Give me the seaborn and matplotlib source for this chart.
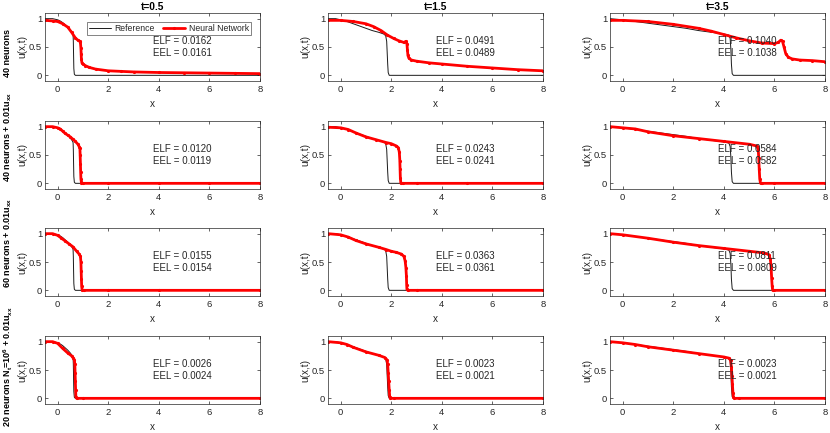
import matplotlib
matplotlib.use("Agg")
import matplotlib.pyplot as plt
import pandas as pd
import seaborn as sns

# ---------------- data ----------------
time_titles = ["t=0.5", "t=1.5", "t=3.5"]
row_labels = [
    "40 neurons",
    r"40 neurons + 0.01$\mathbf{u_{xx}}$",
    r"60 neurons + 0.01$\mathbf{u_{xx}}$",
    r"20 neurons $\mathbf{N_t}$=$\mathbf{10^6}$ + 0.01$\mathbf{u_{xx}}$",
]
x_ticks = [0, 2, 4, 6, 8]
y_ticks = [0, 0.5, 1]
y_tick_labels = ["0", "0.5", "1"]

# Reference solution (one per time)
ref_x_t05 = [-0.5, -0.2, 0.0, 0.1, 0.2, 0.3, 0.4, 0.5, 0.58, 0.61, 0.62, 0.63, 0.64, 0.66, 0.7, 8.0]
ref_u_t05 = [1.0, 1.0, 0.98, 0.96, 0.93, 0.89, 0.85, 0.8, 0.75, 0.72, 0.6, 0.35, 0.12, 0.02, 0.0, 0.0]
ref_x_t15 = [-0.5, -0.2, 0.0, 0.25, 0.5, 0.75, 1.0, 1.25, 1.5, 1.7, 1.78, 1.82, 1.84, 1.86, 1.88, 1.92, 2.0, 8.0]
ref_u_t15 = [1.0, 1.0, 0.98, 0.95, 0.91, 0.87, 0.83, 0.79, 0.76, 0.73, 0.7, 0.6, 0.4, 0.2, 0.05, 0.0, 0.0, 0.0]
ref_x_t35 = [-0.5, 0.0, 0.5, 1.0, 1.5, 2.0, 2.5, 3.0, 3.5, 4.0, 4.2, 4.25, 4.28, 4.3, 4.33, 4.38, 4.5, 8.0]
ref_u_t35 = [1.0, 0.98, 0.95, 0.92, 0.89, 0.86, 0.83, 0.79, 0.76, 0.73, 0.71, 0.65, 0.45, 0.2, 0.03, 0.0, 0.0, 0.0]

# Neural network, row 1 (40 neurons)
nn1_x_t05 = [-0.5, -0.2, 0.0, 0.2, 0.4, 0.55, 0.7, 0.8, 0.88, 0.9, 0.92, 0.93, 0.94, 0.96, 1.0, 1.1, 1.25, 1.5, 2.0, 2.5, 3.0, 4.0, 5.0, 6.0, 7.0, 8.0]
nn1_u_t05 = [0.97, 0.96, 0.95, 0.91, 0.85, 0.76, 0.66, 0.62, 0.6, 0.58, 0.48, 0.38, 0.28, 0.22, 0.2, 0.17, 0.14, 0.11, 0.08, 0.07, 0.06, 0.05, 0.045, 0.04, 0.035, 0.03]
nn1_x_t15 = [-0.5, 0.0, 0.5, 1.0, 1.3, 1.6, 1.85, 2.1, 2.3, 2.5, 2.58, 2.62, 2.64, 2.66, 2.7, 2.8, 3.0, 3.5, 4.0, 5.0, 6.0, 7.0, 8.0]
nn1_u_t15 = [0.97, 0.97, 0.95, 0.91, 0.86, 0.79, 0.71, 0.65, 0.61, 0.58, 0.6, 0.56, 0.45, 0.35, 0.3, 0.27, 0.25, 0.22, 0.2, 0.16, 0.13, 0.1, 0.08]
nn1_x_t35 = [-0.5, 0.0, 1.0, 2.0, 3.0, 3.5, 4.0, 4.5, 5.0, 5.5, 6.0, 6.15, 6.25, 6.32, 6.38, 6.45, 6.55, 6.7, 7.0, 7.5, 8.0]
nn1_u_t35 = [0.97, 0.97, 0.95, 0.9, 0.83, 0.78, 0.72, 0.66, 0.61, 0.57, 0.56, 0.58, 0.62, 0.6, 0.5, 0.38, 0.32, 0.29, 0.27, 0.26, 0.24]

# Row 2 (40 neurons + 0.01u_xx)
nn2_x_t05 = [-0.5, -0.2, 0.0, 0.1, 0.2, 0.3, 0.4, 0.5, 0.6, 0.7, 0.8, 0.85, 0.88, 0.89, 0.9, 0.91, 0.92, 0.94, 1.0, 2.0, 4.0, 6.0, 8.0]
nn2_u_t05 = [1.0, 1.0, 0.98, 0.96, 0.92, 0.88, 0.85, 0.82, 0.78, 0.74, 0.69, 0.65, 0.62, 0.5, 0.35, 0.2, 0.08, 0.01, 0.0, 0.0, 0.0, 0.0, 0.0]
nn2_x_t15 = [-0.5, 0.0, 0.3, 0.6, 1.0, 1.4, 1.8, 2.0, 2.2, 2.28, 2.32, 2.34, 2.35, 2.36, 2.38, 2.45, 3.0, 5.0, 8.0]
nn2_u_t15 = [0.99, 0.98, 0.95, 0.89, 0.82, 0.77, 0.72, 0.7, 0.66, 0.63, 0.55, 0.4, 0.25, 0.1, 0.0, 0.0, 0.0, 0.0, 0.0]
nn2_x_t35 = [-0.5, 0.0, 0.5, 1.0, 2.0, 3.0, 4.0, 5.0, 5.3, 5.36, 5.38, 5.4, 5.42, 5.45, 5.5, 6.0, 8.0]
nn2_u_t35 = [1.0, 0.98, 0.96, 0.91, 0.84, 0.79, 0.74, 0.69, 0.66, 0.6, 0.45, 0.25, 0.08, 0.0, 0.0, 0.0, 0.0]

# Row 3 (60 neurons + 0.01u_xx)
nn3_x_t05 = [-0.5, -0.2, 0.0, 0.15, 0.3, 0.45, 0.6, 0.75, 0.85, 0.9, 0.92, 0.93, 0.94, 0.95, 0.97, 1.05, 2.0, 4.0, 8.0]
nn3_u_t05 = [1.0, 1.0, 0.97, 0.92, 0.87, 0.82, 0.77, 0.69, 0.64, 0.6, 0.5, 0.35, 0.2, 0.07, 0.0, 0.0, 0.0, 0.0, 0.0]
nn3_x_t15 = [-0.5, 0.0, 0.3, 0.6, 1.0, 1.5, 1.8, 2.0, 2.2, 2.4, 2.5, 2.55, 2.58, 2.6, 2.61, 2.62, 2.65, 3.0, 8.0]
nn3_u_t15 = [1.0, 0.98, 0.94, 0.88, 0.82, 0.76, 0.72, 0.69, 0.67, 0.64, 0.6, 0.52, 0.4, 0.25, 0.1, 0.02, 0.0, 0.0, 0.0]
nn3_x_t35 = [-0.5, 0.0, 1.0, 2.0, 3.0, 4.0, 5.0, 5.6, 5.78, 5.84, 5.87, 5.89, 5.91, 5.93, 6.0, 8.0]
nn3_u_t35 = [1.0, 0.98, 0.92, 0.85, 0.79, 0.74, 0.69, 0.66, 0.63, 0.55, 0.4, 0.22, 0.08, 0.0, 0.0, 0.0]

# Row 4 (20 neurons, N_t = 10^6, + 0.01u_xx)
nn4_x_t05 = [-0.5, -0.2, 0.0, 0.2, 0.4, 0.55, 0.62, 0.66, 0.68, 0.69, 0.7, 0.71, 0.72, 0.75, 1.0, 8.0]
nn4_u_t05 = [1.0, 1.0, 0.97, 0.88, 0.8, 0.75, 0.71, 0.68, 0.6, 0.45, 0.3, 0.15, 0.03, 0.0, 0.0, 0.0]
nn4_x_t15 = [-0.5, 0.0, 0.25, 0.5, 1.0, 1.5, 1.75, 1.83, 1.86, 1.88, 1.9, 1.92, 1.94, 1.97, 2.1, 8.0]
nn4_u_t15 = [1.0, 0.98, 0.95, 0.9, 0.82, 0.76, 0.72, 0.68, 0.6, 0.45, 0.3, 0.15, 0.03, 0.0, 0.0, 0.0]
nn4_x_t35 = [-0.5, 0.0, 0.5, 1.0, 2.0, 3.0, 4.0, 4.2, 4.27, 4.3, 4.32, 4.34, 4.36, 4.38, 4.42, 4.6, 8.0]
nn4_u_t35 = [1.0, 0.98, 0.95, 0.91, 0.85, 0.79, 0.73, 0.71, 0.67, 0.55, 0.4, 0.25, 0.1, 0.02, 0.0, 0.0, 0.0]

elf_values = [["0.0162", "0.0491", "0.1040"],
              ["0.0120", "0.0243", "0.0584"],
              ["0.0155", "0.0363", "0.0811"],
              ["0.0026", "0.0023", "0.0023"]]
eel_values = [["0.0161", "0.0489", "0.1038"],
              ["0.0119", "0.0241", "0.0582"],
              ["0.0154", "0.0361", "0.0809"],
              ["0.0024", "0.0021", "0.0021"]]

# ---------------- styling ----------------
sns.set_theme(style="ticks")
plt.rcParams["font.family"] = ["Liberation Sans", "DejaVu Sans"]
plt.rcParams.update({
    "mathtext.fontset": "custom",
    "mathtext.rm": "Liberation Sans",
    "mathtext.it": "Liberation Sans:italic",
    "mathtext.bf": "Liberation Sans:bold",
    "axes.edgecolor": "#262626",
    "axes.linewidth": 0.5,
    "xtick.color": "#262626",
    "ytick.color": "#262626",
    "text.color": "#262626",
})

refs = [(ref_x_t05, ref_u_t05), (ref_x_t15, ref_u_t15), (ref_x_t35, ref_u_t35)]
nns = [
    [(nn1_x_t05, nn1_u_t05), (nn1_x_t15, nn1_u_t15), (nn1_x_t35, nn1_u_t35)],
    [(nn2_x_t05, nn2_u_t05), (nn2_x_t15, nn2_u_t15), (nn2_x_t35, nn2_u_t35)],
    [(nn3_x_t05, nn3_u_t05), (nn3_x_t15, nn3_u_t15), (nn3_x_t35, nn3_u_t35)],
    [(nn4_x_t05, nn4_u_t05), (nn4_x_t15, nn4_u_t15), (nn4_x_t35, nn4_u_t35)],
]

W, H = 830, 433
fig = plt.figure(figsize=(W / 100, H / 100), dpi=100)

col_left_px = [45, 328, 610]
row_top_px = [13, 121, 228, 336]
ax_w_px, ax_h_px = 215, 68
FS = 6.8

for r in range(4):
    for c in range(3):
        l = col_left_px[c] / W
        b = (H - row_top_px[r] - ax_h_px) / H
        ax = fig.add_axes([l, b, ax_w_px / W, ax_h_px / H])
        rx, ru = refs[c]
        nx, nu = nns[r][c]
        df_ref = pd.DataFrame({"x": rx, "u": ru})
        df_nn = pd.DataFrame({"x": nx, "u": nu})
        sns.lineplot(data=df_ref, x="x", y="u", ax=ax, color="#1a1a1a",
                     linewidth=0.7, estimator=None, sort=False, label="Reference")
        sns.lineplot(data=df_nn, x="x", y="u", ax=ax, color="red",
                     linewidth=2.0, estimator=None, sort=False, marker=".",
                     markersize=3, markeredgecolor="red", markerfacecolor="red",
                     label="Neural Network")
        ax.set_xlim(-0.5, 8)
        ax.set_ylim(-0.1, 1.1)
        ax.set_xticks(x_ticks)
        ax.set_yticks(y_ticks)
        ax.set_yticklabels(y_tick_labels)
        ax.tick_params(direction="in", length=2, width=0.5, labelsize=FS,
                       pad=2, top=True, right=True)
        ax.tick_params(axis="x", pad=3)
        for s in ax.spines.values():
            s.set_visible(True)
            s.set_linewidth(0.5)
            s.set_color("#262626")
        ax.set_xlabel("x", fontsize=FS + 0.4, labelpad=3.5)
        ax.set_ylabel("u(x,t)", fontsize=FS + 0.4, labelpad=1)
        ax.text(3.75, 0.6, "ELF = " + elf_values[r][c], fontsize=7.0, va="center", ha="left")
        ax.text(3.75, 0.4, "EEL = " + eel_values[r][c], fontsize=7.0, va="center", ha="left")
        if r == 0:
            ax.set_title(time_titles[c], fontsize=7.4, fontweight="bold", pad=2,
                         color="black")
        if r == 0 and c == 0:
            leg = ax.legend(loc="upper right", bbox_to_anchor=(0.958, 0.87),
                            ncol=2, fontsize=6.2, frameon=True, fancybox=False,
                            borderaxespad=0, handlelength=2.6, columnspacing=0.9,
                            handletextpad=0.4, borderpad=0.25)
            leg.get_frame().set_edgecolor("#262626")
            leg.get_frame().set_linewidth(0.5)
        else:
            lg = ax.get_legend()
            if lg is not None:
                lg.remove()

# row labels (bold, rotated) at observed positions
row_label_center_px = [53, 137, 243, 367]
for r in range(4):
    fig.text(8 / W, 1 - row_label_center_px[r] / H, row_labels[r], rotation=90,
             ha="center", va="center", fontsize=6.5, fontweight="bold",
             color="black")

fig.savefig("out.png", dpi=100)
